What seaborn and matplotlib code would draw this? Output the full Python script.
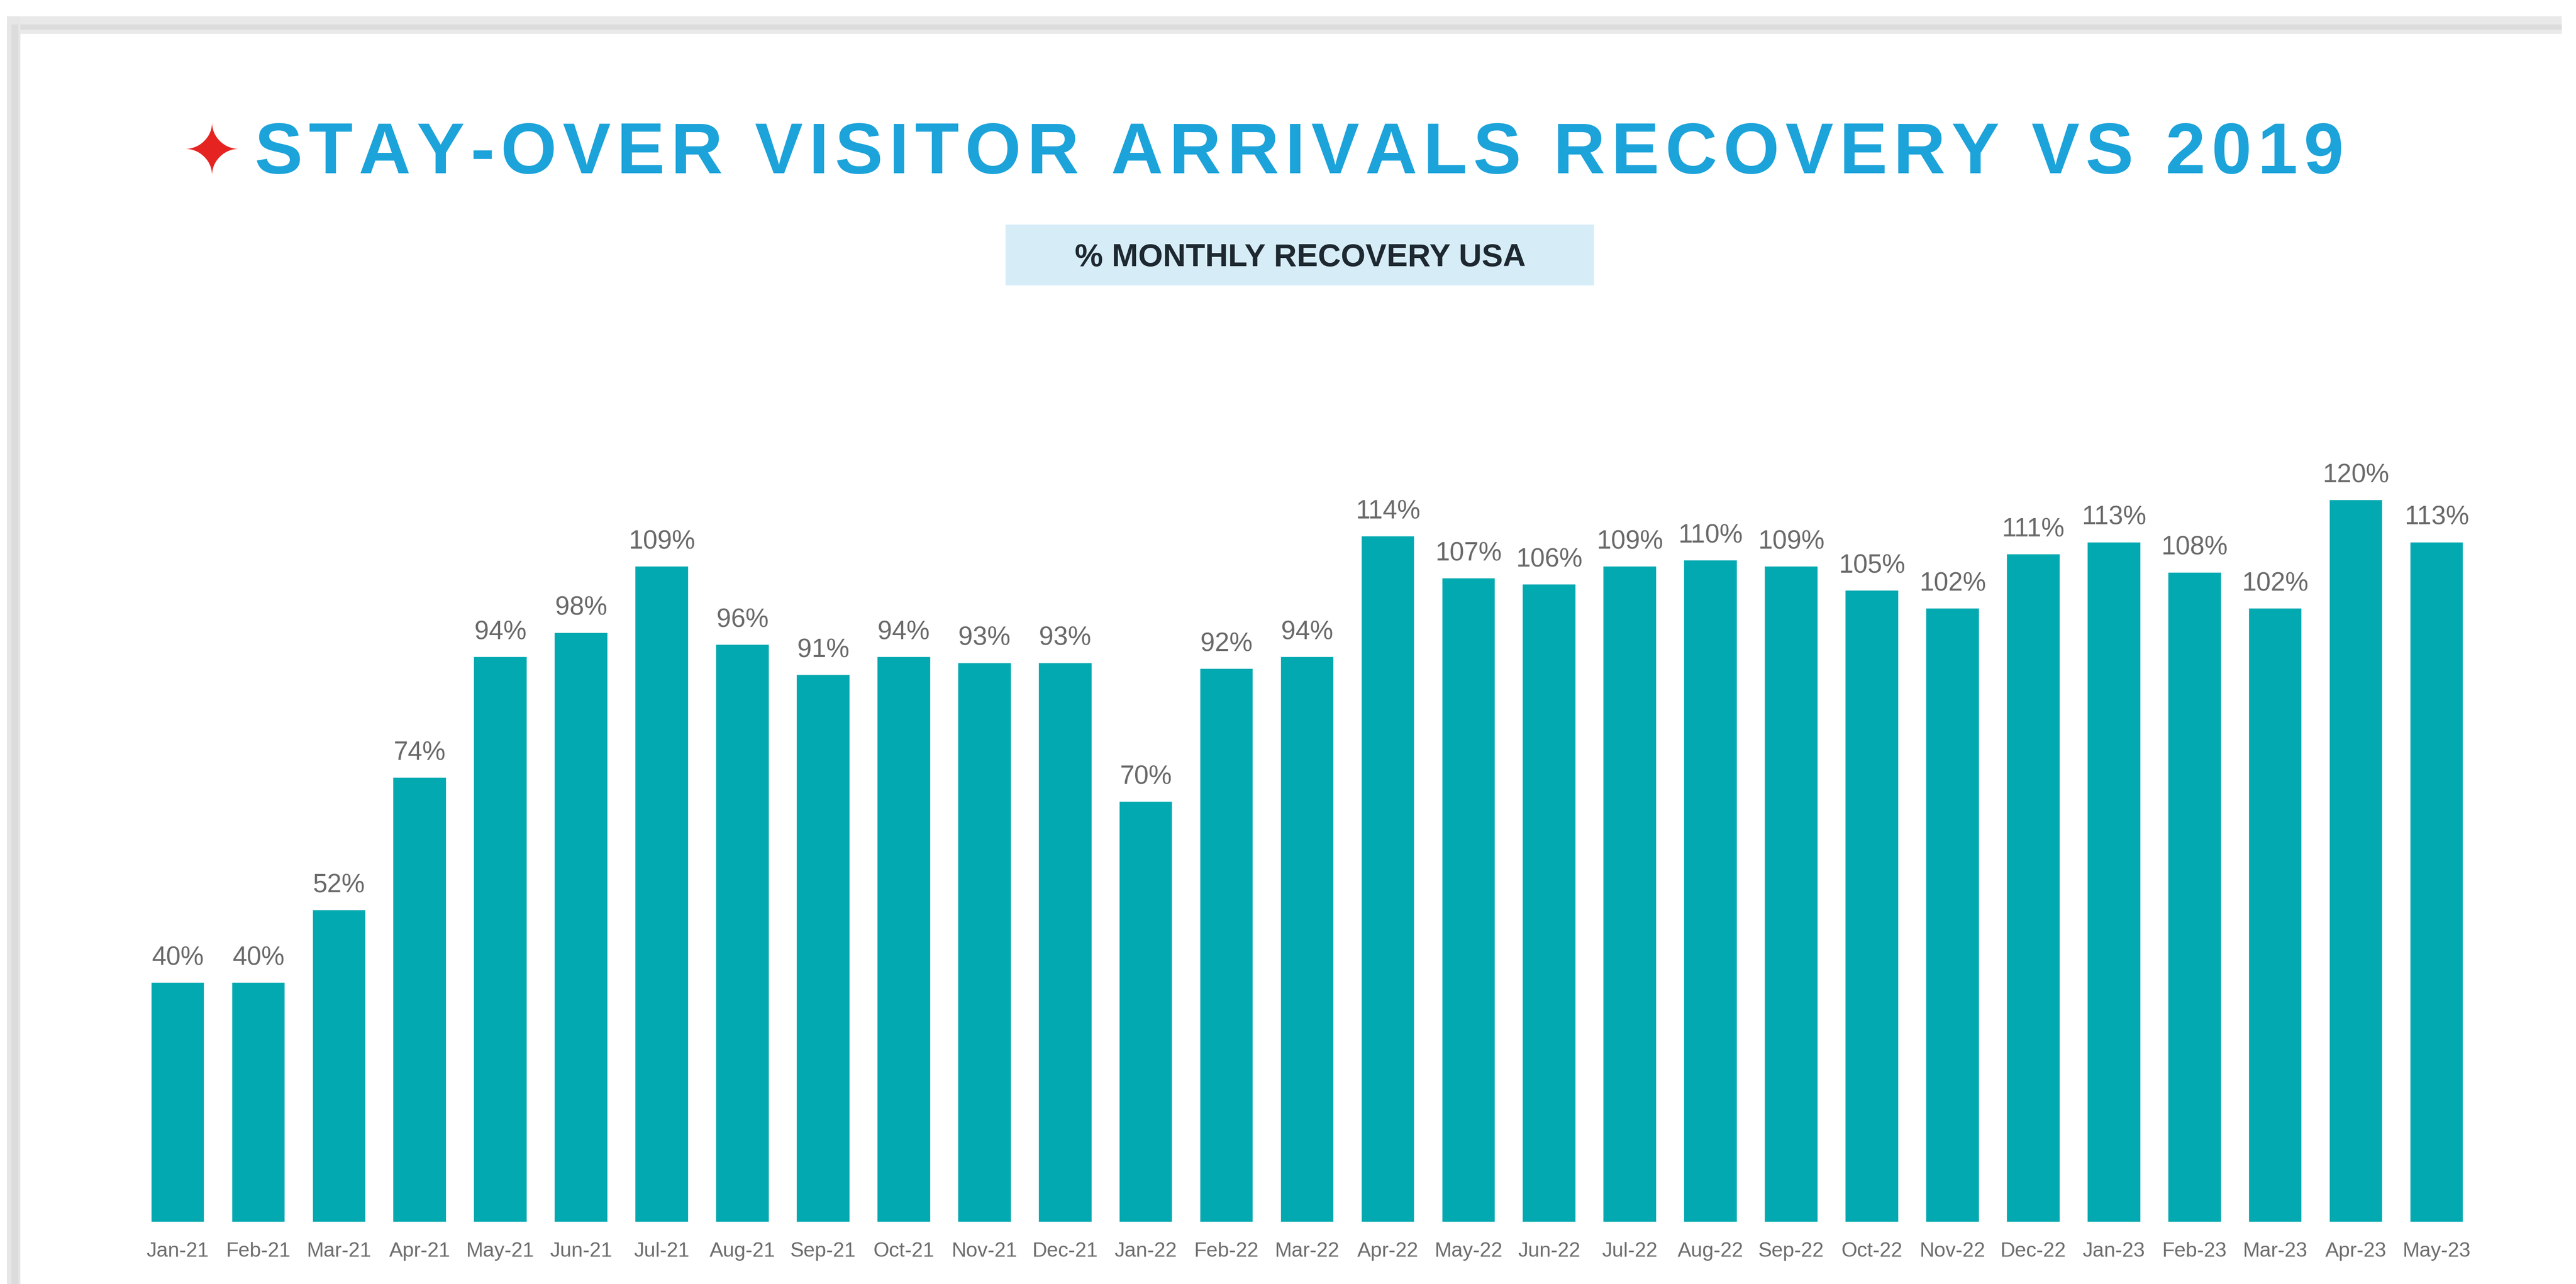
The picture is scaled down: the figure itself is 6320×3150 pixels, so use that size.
import matplotlib
matplotlib.use('Agg')
import matplotlib.pyplot as plt
import matplotlib.patches as patches
import seaborn as sns
import pandas as pd

meses = ['Jan-21', 'Feb-21', 'Mar-21', 'Apr-21', 'May-21', 'Jun-21', 'Jul-21', 'Aug-21',
         'Sep-21', 'Oct-21', 'Nov-21', 'Dec-21', 'Jan-22', 'Feb-22', 'Mar-22', 'Apr-22',
         'May-22', 'Jun-22', 'Jul-22', 'Aug-22', 'Sep-22', 'Oct-22', 'Nov-22', 'Dec-22',
         'Jan-23', 'Feb-23', 'Mar-23', 'Apr-23', 'May-23']
recuperacao = [40, 40, 52, 74, 94, 98, 109, 96, 91, 94, 93, 93, 70, 92, 94, 114,
               107, 106, 109, 110, 109, 105, 102, 111, 113, 108, 102, 120, 113]

titulo = 'STAY-OVER VISITOR ARRIVALS RECOVERY VS 2019'
subtitulo = '% MONTHLY RECOVERY USA'

df = pd.DataFrame({'MES': meses, 'RECUPERACAO': recuperacao})

sns.set_style("white")
plt.rcParams['font.family'] = ['Liberation Sans', 'DejaVu Sans']

fig = plt.figure(figsize=(15.8, 7.875), dpi=400)
fig.patch.set_facecolor('white')

# moldura cinza (topo e lado esquerdo)
W, H = 6320, 3150
fig.add_artist(patches.Rectangle((17 / W, 1 - 83 / H), (6285 - 17) / W, 43 / H,
                                 transform=fig.transFigure, color='#E9E9E9', lw=0))
fig.add_artist(patches.Rectangle((17 / W, 1 - 73 / H), (6285 - 17) / W, 13 / H,
                                 transform=fig.transFigure, color='#DCDCDC', lw=0))
fig.add_artist(patches.Rectangle((17 / W, 0), 33 / W, 1 - 40 / H,
                                 transform=fig.transFigure, color='#E6E6E6', lw=0))
fig.add_artist(patches.Rectangle((28 / W, 0), 17 / W, 1 - 60 / H,
                                 transform=fig.transFigure, color='#DCDCDC', lw=0))

# titulo com letras espacadas (hair space entre os caracteres)
titulo_espacado = '\u200a'.join(titulo)

fig.text(520 / W, 1 - 380 / H, '\u2726', color='#E52421', fontsize=31,
         ha='center', va='center', family=['DejaVu Sans'])
fig.text(625 / W, 1 - 425 / H, titulo_espacado, color='#1CA3DA', fontsize=31.8,
         fontweight='bold', ha='left', va='baseline')

# caixa do subtitulo
fig.add_artist(patches.Rectangle((2467 / W, 1 - 700 / H), 1444 / W, 149 / H,
                                 transform=fig.transFigure, color='#D6EDF8', lw=0))
fig.text(3190 / W, 1 - 653 / H, subtitulo, color='#1E2830', fontsize=14,
         fontweight='bold', ha='center', va='baseline')

ax = fig.add_axes([337 / W, 150 / H, (6077 - 337) / W, (3000 - 1076) / H])

sns.barplot(data=df, x='MES', y='RECUPERACAO', color='#02A9B0',
            width=0.68, saturation=1, ax=ax)

ax.bar_label(ax.containers[0], labels=[f'{v}%' for v in recuperacao],
             padding=5, fontsize=11.5, color='#6A6A6A')

ax.set_xlim(-0.5, len(meses) - 0.5)
ax.set_ylim(0, 130)
ax.set_xlabel('')
ax.set_ylabel('')
ax.set_yticks([])
ax.tick_params(axis='x', length=0, pad=8.5, labelsize=9, labelcolor='#6E6E6E')
for s in ax.spines.values():
    s.set_visible(False)
ax.patch.set_alpha(0)

plt.savefig('out.png', dpi=400)
plt.close()
